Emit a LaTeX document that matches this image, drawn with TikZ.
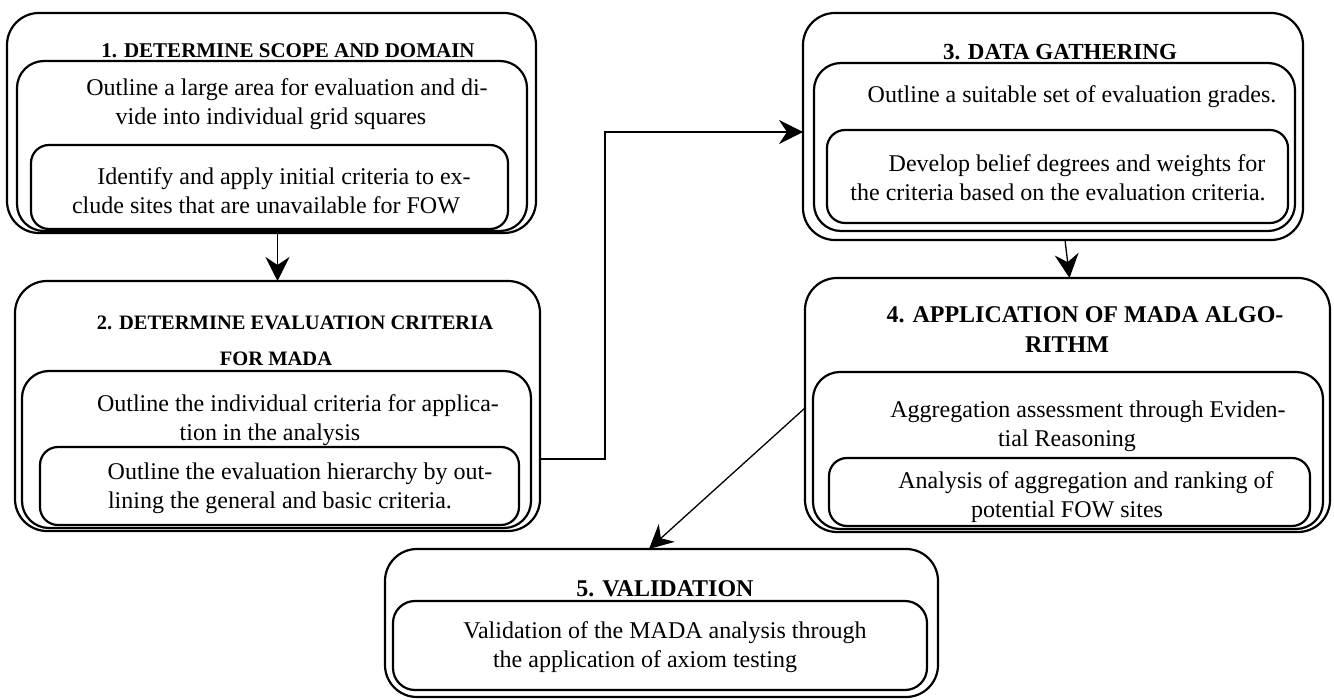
\documentclass[tikz,border=0pt]{standalone}
\usepackage{fontspec}
\setmainfont{Liberation Serif}
\usetikzlibrary{arrows.meta,fit}
\begin{document}
\begin{tikzpicture}[x=1pt,y=-1pt,
  boxline/.style={draw, line width=2.2pt, inner sep=0pt, outer sep=0pt},
  outerbox/.style={boxline, rounded corners=32pt},
  midbox/.style={boxline, rounded corners=27pt},
  innerbox/.style={boxline, rounded corners=18pt},
  ttlsmall/.style={font=\fontsize{21}{36}\selectfont\bfseries, align=center, inner sep=0pt},
  ttlbig/.style={font=\fontsize{24}{30}\selectfont\bfseries, align=center, inner sep=0pt},
  txt/.style={font=\fontsize{24}{29}\selectfont, align=center, inner sep=0pt},
  conn/.style={line width=1.3pt, -{Stealth[length=24pt,width=24pt,inset=8pt]}}
]
\fill[white] (0,0) rectangle (1334,700);
\useasboundingbox (0,0) rectangle (1334,700);

% Box 1
\node[outerbox, fit={(7,13) (536,233)}] (b1) {};
\node[midbox, fit={(17,61) (527,231)}] (b1m) {};
\node[innerbox, fit={(31,145) (508,229)}] (b1i) {};
\node[ttlsmall] (t1) at (288,51) {1. DETERMINE SCOPE AND DOMAIN};
\node[txt] (m1) at (271,104) {\hspace*{32pt}Outline a large area for evaluation and di-\\vide into individual grid squares};
\node[txt] (i1) at (266,191) {\hspace*{36pt}Identify and apply initial criteria to ex-\\clude sites that are unavailable for FOW};

% Box 2
\node[outerbox, fit={(15,281) (540,531)}] (b2) {};
\node[midbox, fit={(22,371) (531,528)}] (b2m) {};
\node[innerbox, fit={(40,447) (519,525)}] (b2i) {};
\node[ttlsmall, font=\fontsize{20.5}{36}\selectfont\bfseries] (t2) at (276,341) {\hspace*{38pt}2. DETERMINE EVALUATION CRITERIA\\FOR MADA};
\node[txt] (m2) at (270,420) {\hspace*{56pt}Outline the individual criteria for applica-\\tion in the analysis};
\node[txt] (i2) at (280,488) {\hspace*{40pt}Outline the evaluation hierarchy by out-\\lining the general and basic criteria.};

% Box 3
\node[outerbox, fit={(803,13) (1303,240)}] (b3) {};
\node[midbox, fit={(814,63) (1295,231)}] (b3m) {};
\node[innerbox, fit={(827,130) (1288,223)}] (b3i) {};
\node[ttlbig, font=\fontsize{23}{30}\selectfont\bfseries] (t3) at (1060,52) {3. DATA GATHERING};
\node[txt] (m3) at (1072,97) {Outline a suitable set of evaluation grades.};
\node[txt] (i3) at (1058,178) {\hspace*{38pt}Develop belief degrees and weights for\\the criteria based on the evaluation criteria.};

% Box 4
\node[outerbox, fit={(805,278) (1330,532)}] (b4) {};
\node[midbox, fit={(813,372) (1323,529)}] (b4m) {};
\node[innerbox, fit={(829,458) (1310,526)}] (b4i) {};
\node[ttlbig] (t4) at (1067,330) {\hspace*{36pt}4. APPLICATION OF MADA ALGO-\\RITHM};
\node[txt] (m4) at (1067,426) {\hspace*{42pt}Aggregation assessment through Eviden-\\tial Reasoning};
\node[txt] (i4) at (1067,497) {\hspace*{38pt}Analysis of aggregation and ranking of\\potential FOW sites};

% Box 5
\node[outerbox, fit={(385,549) (938,697)}] (b5) {};
\node[midbox, rounded corners=22pt, fit={(393,601) (927,690)}] (b5i) {};
\node[ttlbig] (t5) at (665,589) {5. VALIDATION};
\node[txt] (i5) at (645,647) {\hspace*{40pt}Validation of the MADA analysis through\\the application of axiom testing};

% Connectors
\draw[conn] (b2.north |- b1.south) -- (b2.north);
\draw[conn] (b2.east |- 0,459) -| (605,132) -- (b3.west |- 0,132);
\draw[conn] ([xshift=12pt]b3.south) -- ([xshift=2pt]b4.north);
\draw[conn] (b4.west |- 0,408) -- (649,549);
\end{tikzpicture}
\end{document}
